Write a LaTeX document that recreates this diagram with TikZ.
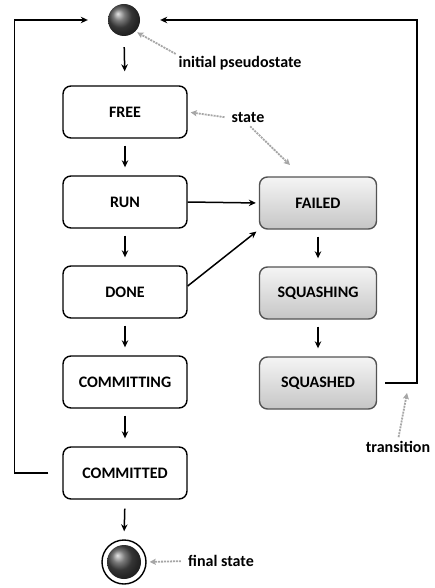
\documentclass[tikz,border=0pt]{standalone}
\usepackage{fontspec}
\setmainfont{Carlito}
\usepackage{tikz}
\usetikzlibrary{arrows.meta}

\begin{document}
\begin{tikzpicture}[
  x=1pt, y=-1pt,
  box/.style={
      rectangle,
      draw,
      line width=1.4pt,
      rounded corners=8pt,
      text centered,
      align=center,
      minimum height=52pt,
      minimum width=124pt,
      font=\fontsize{16}{18}\selectfont\bfseries,
      fill=white
  },
  failbox/.style={
      box,
      minimum width=117pt,
      draw=gray!65!black,
      top color=gray!8,
      bottom color=gray!45
  },
  arrow/.style={
      ->,
      line width=1.5pt,
      >={Stealth[length=7pt,width=6.5pt]}
  },
  note/.style={
      ->,
      draw=gray!70,
      line width=1.8pt,
      dash pattern=on 2pt off 1pt,
      >={Stealth[length=6pt,width=6pt,inset=1pt]}
  },
  label/.style={
      font=\fontsize{16}{18}\selectfont\bfseries,
      inner sep=1pt
  }
]

\useasboundingbox (0,0) rectangle (435,588);

% ==================================================
% Pseudostates
% ==================================================

\node[circle,
      minimum size=32pt,
      inner sep=0pt,
      shading=ball,
      ball color=gray!60!black]
      (init) at (124,20) {};

\node[circle,
      draw,
      line width=1.4pt,
      minimum size=44pt,
      inner sep=0pt]
      (final) at (124,562) {};

\node[circle,
      minimum size=34pt,
      inner sep=0pt,
      shading=ball,
      ball color=gray!60!black]
      (finalball) at (124,562) {};

% ==================================================
% Main States
% ==================================================

\node[box] (free) at (125,112) {FREE};
\node[box] (run) at (125,202) {RUN};
\node[box] (done) at (125,292) {DONE};
\node[box] (committing) at (125,382) {COMMITTING};
\node[box] (committed) at (125,473) {COMMITTED};

% ==================================================
% Failure States
% ==================================================

\node[failbox] (failed) at (318,203) {FAILED};
\node[failbox] (squashing) at (318,293) {SQUASHING};
\node[failbox] (squashed) at (318,383) {SQUASHED};

% ==================================================
% Labels
% ==================================================

\node[label] (initlabel) at (240,63) {initial pseudostate};
\node[label] (statelabel) at (248,118) {state};
\node[label] (translabel) at (398,447) {transition};
\node[label] (finallabel) at (221,561) {final state};

\coordinate (statetip) at (290,165);
\coordinate (transtip) at (407,393);

% ==================================================
% Main Flow
% ==================================================

\draw[arrow, shorten <=11pt, shorten >=14pt]
      (init.south) -- (free.north);

\foreach \a/\b in {free/run, run/done, done/committing,
                   committing/committed,
                   failed/squashing, squashing/squashed}
  \draw[arrow, shorten <=7pt, shorten >=8pt]
        (\a.south) -- (\b.north);

\draw[arrow, shorten <=9pt, shorten >=8pt]
      (committed.south) -- (final.north);

\draw[arrow, shorten >=3pt]
      (run.east) -- (failed.west);

\draw[arrow, shorten >=3pt]
      ([yshift=6pt]done.east) -- (failed.south west);

% ==================================================
% Loops Back to Start
% ==================================================

\draw[arrow, shorten <=14pt, shorten >=20pt]
      (committed.west) -- ++(-48,0)
      |- (init.west);

\draw[arrow, shorten <=8pt, shorten >=20pt]
      (squashed.east) -- ++(40,0)
      |- (init.east);

% ==================================================
% Annotations
% ==================================================

\draw[note, shorten <=2pt, shorten >=2pt]
      (initlabel.north west) -- (init.south east);

\draw[note, shorten <=6pt, shorten >=3pt]
      (statelabel.west) -- (free.east);

\draw[note, shorten <=3pt]
      (statelabel.south) -- (statetip);

\draw[note, shorten <=3pt]
      (translabel.north) -- (transtip);

\draw[note, shorten <=6pt, shorten >=3pt]
      (finallabel.west) -- (final.east);

\end{tikzpicture}
\end{document}
